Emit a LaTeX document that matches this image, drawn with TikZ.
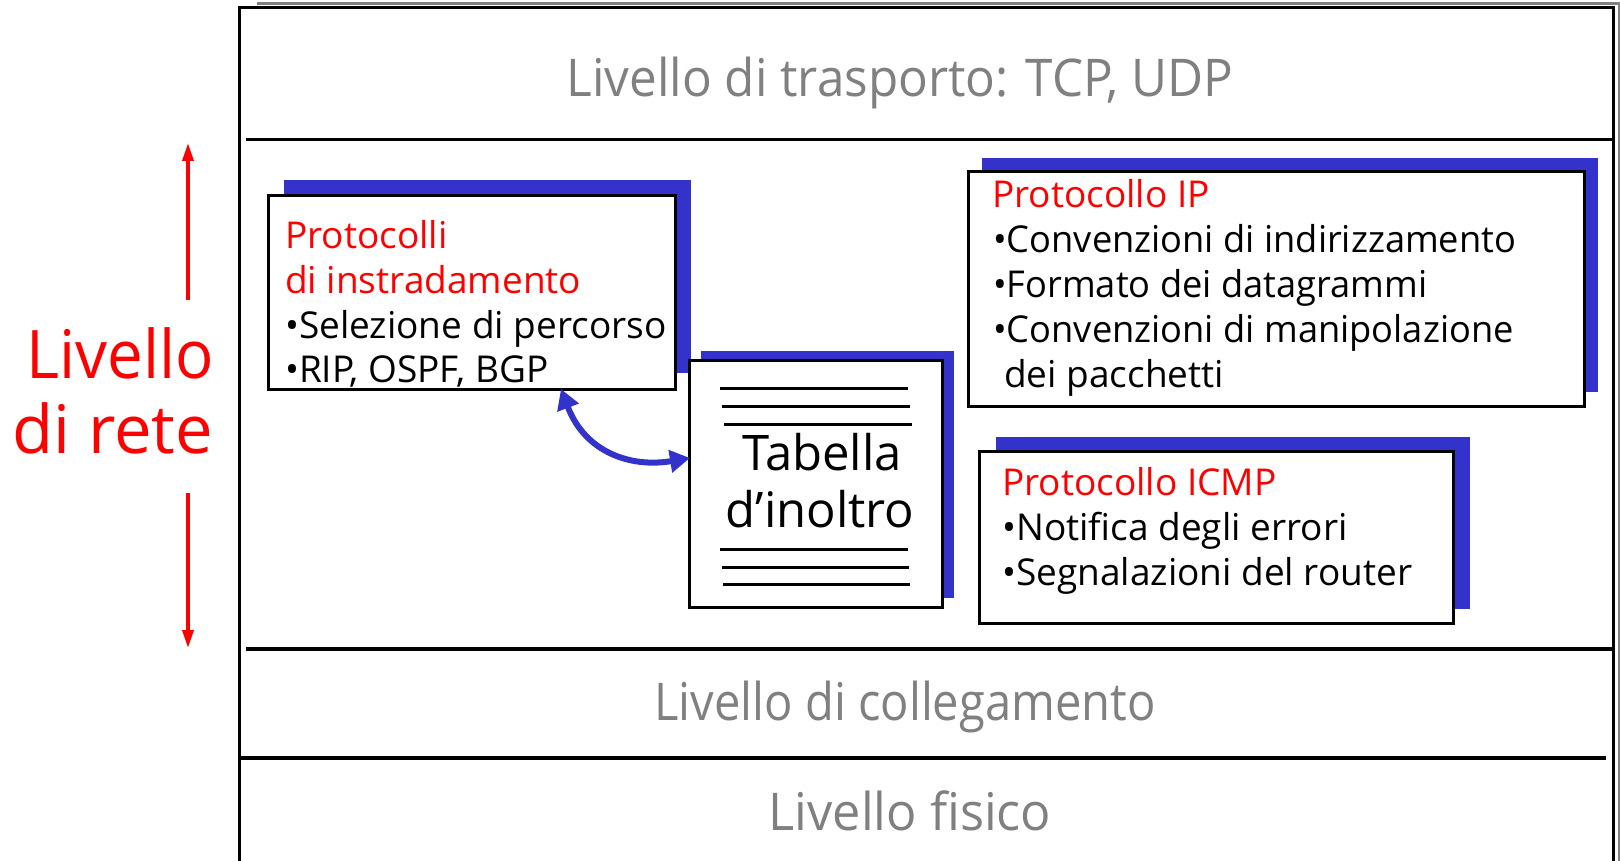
\documentclass[tikz,border=0pt]{standalone}
\usepackage{graphicx}
\usepackage{fontspec}
\setmainfont{Open Sans}
\usetikzlibrary{arrows.meta}
\definecolor{sblue}{HTML}{3333CC}
\definecolor{lgray}{HTML}{808080}
\definecolor{rred}{HTML}{FF0000}
\newcommand{\hsq}[2]{\scalebox{#1}[1]{#2}}
\begin{document}
\begin{tikzpicture}[x=1pt,y=-1pt,
  box/.style={draw=black, fill=white, line width=3pt, inner sep=0pt, outer sep=0pt, anchor=north west},
  shadowbox/.style={fill=sblue, draw=none, inner sep=0pt, outer sep=0pt, anchor=north west},
  txt/.style={anchor=base west, inner sep=0pt, font=\fontsize{37}{44}\selectfont},
  head/.style={txt, text=rred},
  layer/.style={anchor=base, inner sep=0pt, text=lgray, font=\fontsize{52}{60}\selectfont},
  big/.style={anchor=base, inner sep=0pt, text=rred, font=\fontsize{67}{76}\selectfont},
  tab/.style={anchor=base, inner sep=0pt, font=\fontsize{49}{58}\selectfont},
  redarrow/.style={draw=rred, line width=3.5pt, -{Triangle[length=18pt,width=11pt]}},
  bluearrow/.style={draw=sblue, line width=6pt, {Triangle[length=20pt,width=22pt]}-{Triangle[length=20pt,width=22pt]}},
  sep/.style={line width=3.5pt}
]
\useasboundingbox (0,0) rectangle (1620,861);
% frame
\draw[lgray, line width=3pt] (257,4) -- (1619,4) -- (1619,861);
\draw[line width=3pt] (239,861) -- (239,8) -- (1613,8) -- (1613,861);
\draw[sep] (246,139.5) -- (1613,139.5);
\draw[sep] (246,649) -- (1613,649);
\draw[sep] (239,758) -- (1606,758);
% layer labels
\node[layer] (ltr) at (900,97) {\hsq{0.95}{Livello di trasporto: TCP, UDP}};
\node[layer] (lcol) at (905,720) {\hsq{0.906}{Livello di collegamento}};
\node[layer] (lfis) at (910,830) {\hsq{0.97}{Livello fisico}};
% side label
\node[big] (liv1) at (120,378) {\hsq{0.95}{Livello}};
\node[big] (liv2) at (113,453) {di rete};
\coordinate (upa) at (188,300);
\coordinate (upb) at (188,143);
\coordinate (dna) at (188,493);
\coordinate (dnb) at (188,648);
\draw[redarrow] (upa) -- (upb);
\draw[redarrow] (dna) -- (dnb);
% routing box
\node[shadowbox, minimum width=407pt, minimum height=193pt] (lsh) at (283.5,180) {};
\node[box, minimum width=407pt, minimum height=193pt] (lbox) at (268,196) {};
\node[head] (l1) at (285,248) {Protocolli};
\node[head] (l2) at (285,293) {di instradamento};
\node[txt] (l3) at (285,338) {•Selezione di percorso};
\node[txt] (l4) at (285,382) {•RIP, OSPF, BGP};
% table box
\node[shadowbox, minimum width=253pt, minimum height=247pt] (tsh) at (701,351) {};
\node[box, minimum width=253pt, minimum height=247pt] (tbox) at (689,360) {};
\foreach \y/\a/\b in {388/720/908, 406/722/910, 424/724/912, 549/720/908, 567/722/909, 584/723/910}
  \draw[line width=3pt] (\a,\y) -- (\b,\y);
\node[tab] (t1) at (822,470) {Tabella};
\node[tab] (t2) at (820,527) {d’inoltro};
% IP box
\node[shadowbox, minimum width=616pt, minimum height=234pt] (ish) at (982,158) {};
\node[box, minimum width=616pt, minimum height=234pt] (ibox) at (968,172) {};
\node[head] (i1) at (992,208) {Protocollo IP};
\node[txt] (i2) at (993,253) {\hsq{0.98}{•Convenzioni di indirizzamento}};
\node[txt] (i3) at (993,298) {\hsq{0.98}{•Formato dei datagrammi}};
\node[txt] (i4) at (993,342) {\hsq{0.98}{•Convenzioni di manipolazione}};
\node[txt] (i5) at (1004,387) {dei pacchetti};
% ICMP box
\node[shadowbox, minimum width=474pt, minimum height=172pt] (csh) at (996,437) {};
\node[box, minimum width=474pt, minimum height=172pt] (cbox) at (979.5,451) {};
\node[head] (c1) at (1002,495) {Protocollo ICMP};
\node[txt] (c2) at (1002,540) {•Notifica degli errori};
\node[txt] (c3) at (1002,585) {•Segnalazioni del router};
% curved arrow
\coordinate (ca) at (561,389);
\coordinate (cb) at (690,458);
\draw[bluearrow] (ca) .. controls (585,452) and (630,468) .. (cb);
\end{tikzpicture}
\end{document}
